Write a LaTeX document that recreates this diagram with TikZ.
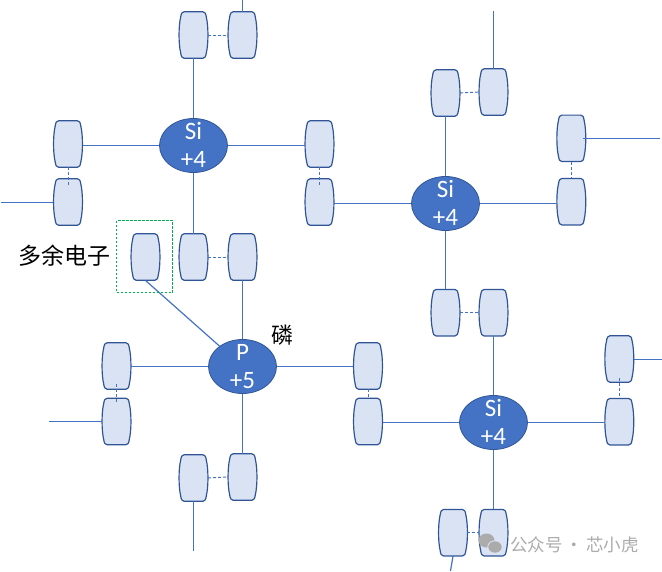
\documentclass[tikz,border=0pt]{standalone}
\usepackage{fontspec}
\setmainfont{Carlito}
\newfontfamily\cjk{Noto Sans CJK SC}
\usetikzlibrary{shapes.geometric}
\definecolor{bluefill}{HTML}{4472C4}
\definecolor{blueedge}{HTML}{2F5597}
\definecolor{capfill}{HTML}{DAE3F3}
\definecolor{greenbox}{HTML}{00B050}
\definecolor{wmark}{HTML}{ABABAB}
\tikzset{
  bond/.style={draw=bluefill,line width=1.2pt},
  dashbond/.style={draw=bluefill,line width=1pt,dash pattern=on 3pt off 2pt},
  capbody/.style={fill=capfill,draw=blueedge,line width=1.2pt},
  capanchor/.style={rectangle,inner sep=0pt,minimum width=29pt,minimum height=46.5pt},
  atom/.style={ellipse,inner sep=0pt,minimum width=68pt,minimum height=54pt,fill=bluefill,draw=blueedge,line width=.8pt},
  atomtext/.style={text=white,font=\fontsize{25}{25}\selectfont,inner sep=0pt},
  cjklabel/.style={font=\cjk\fontsize{23}{23}\selectfont,inner sep=0pt},
}
\newcommand{\capsule}[3]{%
  \path[capbody] (#2-9.5,#3-23.2) -- (#2+9.5,#3-23.2)
    .. controls (#2+11.5,#3-23.2) and (#2+12.3,#3-21.5) .. (#2+12.8,#3-18)
    .. controls (#2+15,#3-9) and (#2+15,#3+9) .. (#2+12.8,#3+18)
    .. controls (#2+12.3,#3+21.5) and (#2+11.5,#3+23.2) .. (#2+9.5,#3+23.2)
    -- (#2-9.5,#3+23.2)
    .. controls (#2-11.5,#3+23.2) and (#2-12.3,#3+21.5) .. (#2-12.8,#3+18)
    .. controls (#2-15,#3+9) and (#2-15,#3-9) .. (#2-12.8,#3-18)
    .. controls (#2-12.3,#3-21.5) and (#2-11.5,#3-23.2) .. (#2-9.5,#3-23.2) -- cycle;
  \node[capanchor] (#1) at (#2,#3) {};
}
\begin{document}
\begin{tikzpicture}[x=1pt,y=-1pt]
\useasboundingbox (0,0) rectangle (662,571);
% atoms
\node[atom] (si1) at (193.5,145.5) {};
\node[atom] (si2) at (445.5,203.5) {};
\node[atom] (pp) at (242.5,366.5) {};
\node[atom] (si3) at (493.5,422.5) {};
\node[atomtext] (si1a) at (193.5,131) {Si};
\node[atomtext] (si1b) at (193.5,159) {+4};
\node[atomtext] (si2a) at (445.5,188.5) {Si};
\node[atomtext] (si2b) at (445.5,217) {+4};
\node[atomtext] (ppa) at (242.5,352) {P};
\node[atomtext] (ppb) at (242.5,380.5) {+5};
\node[atomtext] (si3a) at (493.5,407.5) {Si};
\node[atomtext] (si3b) at (493.5,436) {+4};
% capsules round Si 1
\capsule{a1}{193.5}{35}
\capsule{a2}{242.5}{35}
\capsule{a3}{68}{144}
\capsule{a4}{68}{202}
\capsule{a5}{319.5}{144}
\capsule{a6}{319.5}{202}
\capsule{a7}{193.5}{257}
\capsule{a8}{242.5}{257}
\capsule{ex}{145.5}{257}
% capsules round P
\capsule{p1}{116.5}{366}
\capsule{p2}{116.5}{421.5}
\capsule{p3}{193.5}{478}
\capsule{p4}{242.5}{477}
\capsule{p5}{368}{366}
\capsule{p6}{368}{421.5}
% capsules round Si 2
\capsule{b1}{445.5}{93}
\capsule{b2}{493.5}{92}
\capsule{b3}{571.3}{138.3}
\capsule{b4}{571.3}{201.7}
\capsule{b5}{445.5}{312.7}
\capsule{b6}{493.5}{312.7}
% capsules round Si 3
\capsule{c1}{619.3}{359}
\capsule{c2}{619.3}{421.7}
\capsule{c3}{453}{532.7}
\capsule{c4}{493.5}{532.7}
% free ends
\coordinate (e1) at (242.5,0);
\coordinate (e2) at (1,202.5);
\coordinate (e3) at (49,421.5);
\coordinate (e4) at (193.5,551);
\coordinate (e5) at (493.5,11);
\coordinate (e6) at (660,138.5);
\coordinate (e7) at (662,359.5);
\coordinate (e8) at (450.5,571);
% solid bonds
\draw[bond] (si1.north) -- (a1.south);
\draw[bond] (si1.west) -- (si1 -| a3.east);
\draw[bond] (si1.east) -- (si1 -| a5.west);
\draw[bond] (si1.south) -- (a7.north);
\draw[bond] (a2.north) -- (e1);
\draw[bond] (e2 -| a4.west) -- (e2);
\draw[bond] (si2 -| a6.east) -- (si2.west);
\draw[bond] (a8.south) -- (pp.north);
\draw[bond] (ex.south) -- (pp);
\draw[bond] (pp.west) -- (pp -| p1.east);
\draw[bond] (pp.east) -- (pp -| p5.west);
\draw[bond] (pp.south) -- (p4.north);
\draw[bond] (e3 -| p2.west) -- (e3);
\draw[bond] (p3.south) -- (e4);
\draw[bond] (si3 -| p6.east) -- (si3.west);
\draw[bond] (si2.north) -- (b1.south);
\draw[bond] (si2.east) -- (si2 -| b4.west);
\draw[bond] (si2.south) -- (b5.north);
\draw[bond] (b2.north) -- (e5);
\draw[bond] ([xshift=-3pt]b3.east |- e6) -- (e6);
\draw[bond] (si3.north) -- (b6.south);
\draw[bond] (si3.east) -- (si3 -| c2.west);
\draw[bond] (si3.south) -- (c4.north);
\draw[bond] (e7 -| c1.east) -- (e7);
\draw[bond] (c3.south) -- (e8);
% dashed bonds
\draw[dashbond] (a1.east) -- (a2.west);
\draw[dashbond] (a7.east) -- (a8.west);
\draw[dashbond] (p3.east) -- (p4.west);
\draw[dashbond] (b1.east) -- (b2.west);
\draw[dashbond] (b5.east) -- (b6.west);
\draw[dashbond] ([xshift=-1pt]c3.east) -- (c4.west);
\draw[dashbond] (a3.south) -- ([yshift=-18pt]a3.south);
\draw[dashbond] (a5.south) -- ([yshift=-18pt]a5.south);
\draw[dashbond] ([yshift=5pt]p1.south) -- ([yshift=-13pt]p1.south);
\draw[dashbond] (p5.south) -- (p6.north);
\draw[dashbond] (b3.south) -- (b4.north);
\draw[dashbond] ([yshift=4pt]c1.south) -- (c2.north);
% green frame
\node[draw=greenbox,line width=.9pt,dash pattern=on 2.5pt off 1.5pt,rectangle,inner sep=0pt,minimum width=56pt,minimum height=72pt] (frame) at (144.5,256.5) {};
% labels
\node[cjklabel] (extra) at (64.5,256) {多余电子};
\node[cjklabel,font=\cjk\fontsize{22}{22}\selectfont] (phos) at (282,335) {磷};
% watermark
\path[fill=wmark] (486.5,540.5) ellipse [x radius=8,y radius=7];
\path[fill=capfill] (495,547) ellipse [x radius=7.7,y radius=6.7];
\path[fill=wmark] (495,547) ellipse [x radius=6.7,y radius=5.7];
\node[text=wmark,font=\cjk\fontsize{17.5}{17.5}\selectfont,inner sep=0pt,anchor=west] (wm) at (510,544.5) {公众号\,·\,芯小虎};
\end{tikzpicture}
\end{document}
